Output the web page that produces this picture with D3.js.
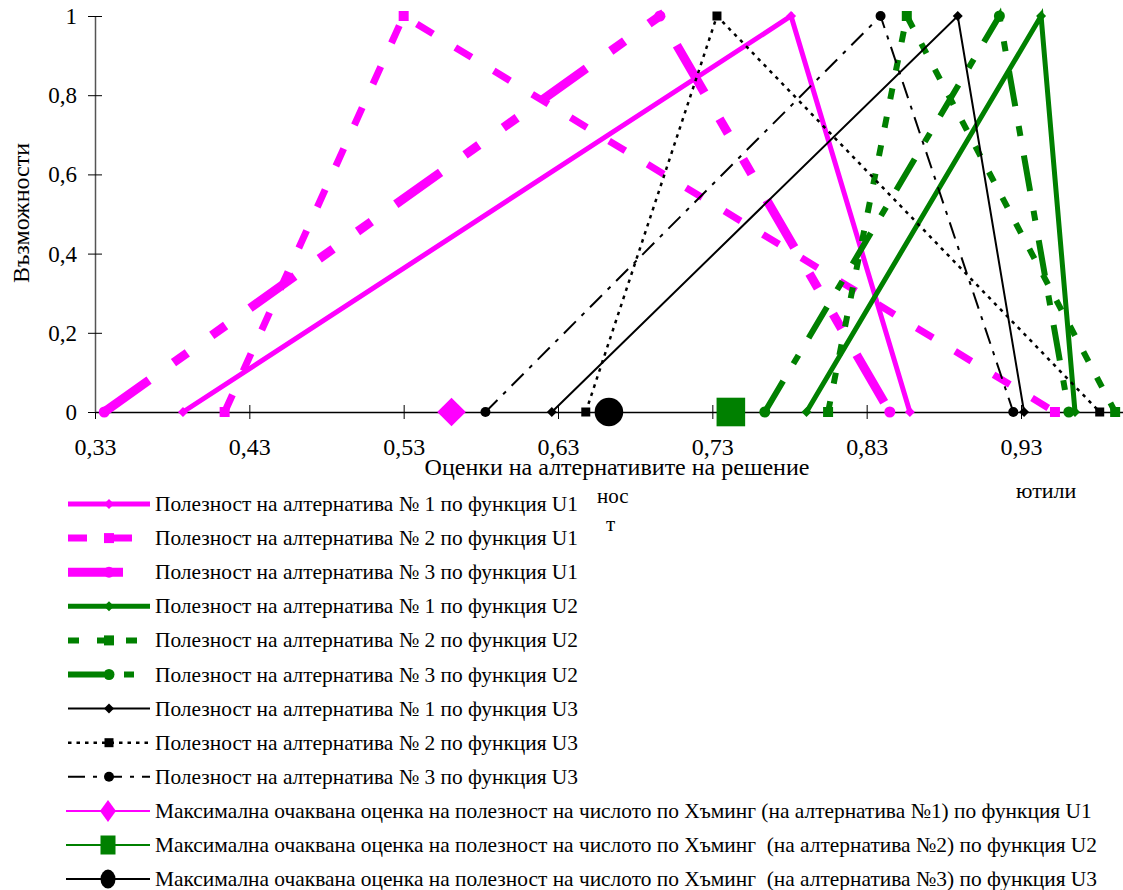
<!DOCTYPE html>
<html>
<head>
<meta charset="utf-8">
<script src="https://cdn.jsdelivr.net/npm/d3@7"></script>
<style>
  html, body { margin: 0; padding: 0; background: #fff; }
  svg { display: block; font-family: "Liberation Serif", "Times New Roman", serif; }
  text { white-space: pre; }
</style>
</head>
<body>
<svg id="chart" width="1123" height="890"></svg>
<script>
// Triangular fuzzy estimates of the alternatives: [left, peak, right]
const possibility = [0, 1, 0];
const u1Alt1 = [0.387, 0.781, 0.858];
const u1Alt2 = [0.414, 0.530, 0.952];
const u1Alt3 = [0.336, 0.696, 0.845];
const u2Alt1 = [0.791, 0.943, 0.965];
const u2Alt2 = [0.805, 0.856, 0.991];
const u2Alt3 = [0.764, 0.916, 0.961];
const u3Alt1 = [0.626, 0.889, 0.932];
const u3Alt2 = [0.648, 0.733, 0.981];
const u3Alt3 = [0.583, 0.839, 0.925];
// Maximal expected Hamming estimates (alternative 1 / U1, alternative 2 / U2, alternative 3 / U3)
const maxEstimates = [0.561, 0.742, 0.663];

const xTicks = [0.33, 0.43, 0.53, 0.63, 0.73, 0.83, 0.93];
const yTicks = [0, 0.2, 0.4, 0.6, 0.8, 1];

const seriesNames = [
  "Полезност на алтернатива № 1 по функция U1",
  "Полезност на алтернатива № 2 по функция U1",
  "Полезност на алтернатива № 3 по функция U1",
  "Полезност на алтернатива № 1 по функция U2",
  "Полезност на алтернатива № 2 по функция U2",
  "Полезност на алтернатива № 3 по функция U2",
  "Полезност на алтернатива № 1 по функция U3",
  "Полезност на алтернатива № 2 по функция U3",
  "Полезност на алтернатива № 3 по функция U3"
];
const maxNames = [
  "Максимална очаквана оценка на полезност на числото по Хъминг (на алтернатива №1) по функция U1",
  "Максимална очаквана оценка на полезност на числото по Хъминг  (на алтернатива №2) по функция U2",
  "Максимална очаквана оценка на полезност на числото по Хъминг  (на алтернатива №3) по функция U3"
];

const MAGENTA = "#ff00ff", GREEN = "#008000", BLACK = "#000000";

// line styles for the nine fuzzy numbers
const styles = [
  { values: u1Alt1, color: MAGENTA, width: 5,   dash: null,                  marker: "diamond", ms: 5 },
  { values: u1Alt2, color: MAGENTA, width: 7,   dash: "19,26",               marker: "square",  ms: 5 },
  { values: u1Alt3, color: MAGENTA, width: 9,   dash: "55,30,17,30,17,30",   marker: "circle",  ms: 5.5 },
  { values: u2Alt1, color: GREEN,   width: 5,   dash: null,                  marker: "diamond", ms: 5 },
  { values: u2Alt2, color: GREEN,   width: 6,   dash: "11,18",               marker: "square",  ms: 5 },
  { values: u2Alt3, color: GREEN,   width: 6,   dash: "36,20,10,20",         marker: "circle",  ms: 5.5 },
  { values: u3Alt1, color: BLACK,   width: 2,   dash: null,                  marker: "diamond", ms: 5 },
  { values: u3Alt2, color: BLACK,   width: 2.5, dash: "3.5,5",               marker: "square",  ms: 4.5 },
  { values: u3Alt3, color: BLACK,   width: 2,   dash: "17,8,4,8",            marker: "circle",  ms: 5 }
];
const maxStyles = [
  { value: maxEstimates[0], color: MAGENTA, marker: "diamond" },
  { value: maxEstimates[1], color: GREEN,   marker: "square" },
  { value: maxEstimates[2], color: BLACK,   marker: "circle" }
];

const svg = d3.select("#chart");
svg.append("rect").attr("width", 1123).attr("height", 890).attr("fill", "#fff");

const x = d3.scaleLinear().domain([0.33, 0.93]).range([95, 1021]);
const y = d3.scaleLinear().domain([0, 1]).range([412, 16]);
const xEnd = x.invert(1123);

const fmt = d => (d === 0 || d === 1) ? String(d) : String(d).replace(".", ",");

// axes
const gx = svg.append("g").attr("transform", `translate(0,${y(0)})`)
  .call(d3.axisBottom(x.copy().domain([0.33, xEnd]).range([95, 1123]))
    .tickValues(xTicks).tickSizeOuter(0).tickFormat(fmt));
gx.select(".domain").attr("stroke", "#000").attr("stroke-width", 1.3);
gx.selectAll(".tick line").attr("y1", -7).attr("y2", 7).attr("stroke", "#000").attr("stroke-width", 1);
gx.selectAll(".tick text").attr("y", 43).attr("dy", 0)
  .attr("font-size", 24).attr("font-family", "Liberation Serif").attr("fill", "#000");

const gy = svg.append("g").attr("transform", `translate(${x(0.33)},0)`)
  .call(d3.axisLeft(y).tickValues(yTicks).tickSizeOuter(0).tickFormat(fmt));
gy.select(".domain").attr("stroke", "#555").attr("stroke-width", 1.5);
gy.selectAll(".tick line").attr("x1", -7).attr("x2", 7).attr("stroke", "#000").attr("stroke-width", 1);
gy.selectAll(".tick text").attr("x", -18).attr("dy", "0.33em")
  .attr("font-size", 23).attr("font-family", "Liberation Serif").attr("fill", "#000");

// axis titles
svg.append("text").attr("x", 617).attr("y", 475).attr("text-anchor", "middle")
  .attr("font-size", 24).text("Оценки на алтернативите на решение");
svg.append("text").attr("transform", "translate(29,213) rotate(-90)")
  .attr("text-anchor", "middle").attr("font-size", 24).text("Възможности");

// stray fragments of an overflowing label
svg.append("text").attr("x", 597).attr("y", 503).attr("font-size", 21).text("нос");
svg.append("text").attr("x", 606).attr("y", 531).attr("font-size", 21).text("т");
svg.append("text").attr("x", 1016).attr("y", 498).attr("font-size", 22).text("ютили");

// marker drawing helper
function drawMarker(g, kind, cx, cy, s, color, sy) {
  sy = sy || s;
  if (kind === "diamond") {
    g.append("path").attr("d", `M${cx},${cy - sy}L${cx + s},${cy}L${cx},${cy + sy}L${cx - s},${cy}Z`).attr("fill", color);
  } else if (kind === "square") {
    g.append("rect").attr("x", cx - s).attr("y", cy - sy).attr("width", 2 * s).attr("height", 2 * sy).attr("fill", color);
  } else {
    g.append("ellipse").attr("cx", cx).attr("cy", cy).attr("rx", s).attr("ry", sy).attr("fill", color);
  }
}

// fuzzy-number lines
const line = d3.line().x(d => x(d[0])).y(d => y(d[1]));
const plot = svg.append("g");
styles.forEach(s => {
  const pts = s.values.map((v, i) => [v, possibility[i]]);
  plot.append("path").datum(pts).attr("d", line)
    .attr("fill", "none").attr("stroke", s.color).attr("stroke-width", s.width)
    .attr("stroke-dasharray", s.dash).attr("stroke-linejoin", "miter");
  pts.forEach(p => drawMarker(plot, s.marker, x(p[0]), y(p[1]), s.ms, s.color));
});

// maximal expected estimates on the axis
maxStyles.forEach(m => drawMarker(plot, m.marker, x(m.value), y(0), 14.3, m.color));

// legend
const legend = svg.append("g");
const rowY = i => 504 + i * 34.1;
styles.forEach((s, i) => {
  const cy = rowY(i);
  legend.append("line").attr("x1", 68).attr("x2", 150).attr("y1", cy).attr("y2", cy)
    .attr("stroke", s.color).attr("stroke-width", s.width).attr("stroke-dasharray", s.dash);
  drawMarker(legend, s.marker, 109, cy, s.ms, s.color);
  legend.append("text").attr("x", 155).attr("y", cy + 7).attr("font-size", 21.4).text(seriesNames[i]);
});
maxStyles.forEach((m, j) => {
  const cy = rowY(9 + j);
  legend.append("line").attr("x1", 66).attr("x2", 150).attr("y1", cy).attr("y2", cy)
    .attr("stroke", m.color).attr("stroke-width", 2);
  drawMarker(legend, m.marker, 108, cy, m.marker === "diamond" ? 8 : 7.5, m.color, m.marker === "diamond" ? 11 : 9.5);
  legend.append("text").attr("x", 155).attr("y", cy + 7).attr("font-size", 21.4).text(maxNames[j]);
});
</script>
</body>
</html>
